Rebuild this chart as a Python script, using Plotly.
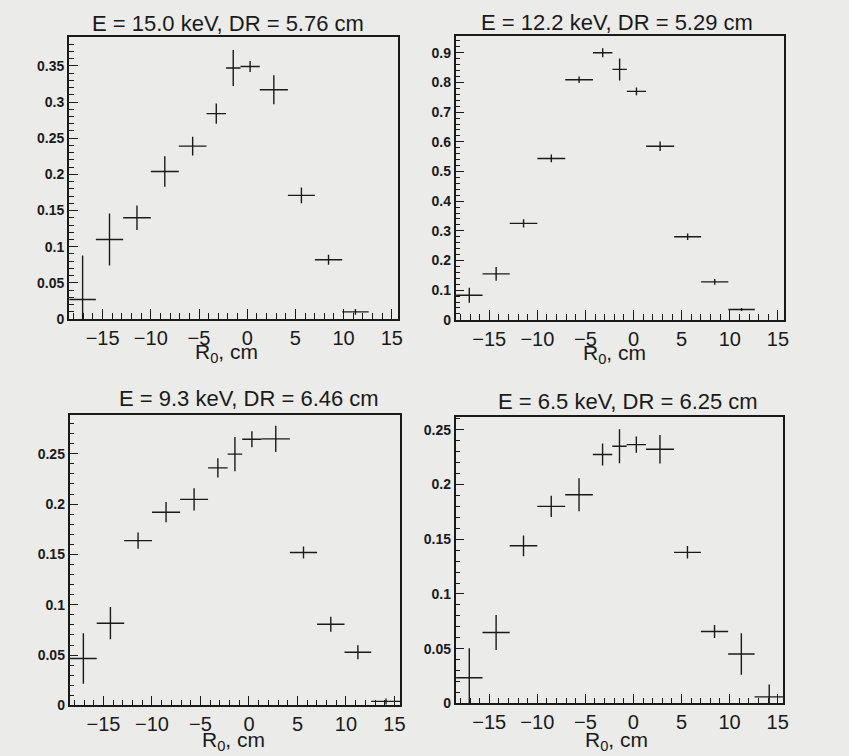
import plotly.graph_objects as go
from plotly.subplots import make_subplots

# ---- data ----
bin_edges = [-18.45, -15.7, -12.87, -10.0, -7.1, -4.22, -2.2, -0.7, 1.3, 4.22, 7.02, 9.85, 12.6, 15.65]

titles = ["E = 15.0 keV, DR = 5.76 cm", "E = 12.2 keV, DR = 5.29 cm",
          "E = 9.3 keV, DR = 6.46 cm", "E = 6.5 keV, DR = 6.25 cm"]

p1_y = [0.027, 0.110, 0.140, 0.204, 0.239, 0.284, 0.347, 0.349, 0.317, 0.171, 0.082, 0.010, None]
p1_err = [0.061, 0.036, 0.017, 0.021, 0.013, 0.014, 0.025, 0.0075, 0.020, 0.011, 0.007, 0.004, None]

p2_y = [0.083, 0.155, 0.325, 0.544, 0.809, 0.900, 0.844, 0.770, 0.585, 0.280, 0.128, 0.035, None]
p2_err = [0.025, 0.023, 0.014, 0.013, 0.011, 0.015, 0.037, 0.013, 0.016, 0.011, 0.010, 0.005, None]

p3_y = [0.0466, 0.0817, 0.1637, 0.192, 0.2047, 0.236, 0.2497, 0.2645, 0.2648, 0.152, 0.0807, 0.0528, 0.004]
p3_err = [0.025, 0.016, 0.008, 0.010, 0.011, 0.0095, 0.017, 0.008, 0.013, 0.006, 0.0075, 0.007, 0.003]

p4_y = [0.0235, 0.0648, 0.144, 0.180, 0.1906, 0.2274, 0.2349, 0.2364, 0.2322, 0.138, 0.0657, 0.0452, 0.006]
p4_err = [0.027, 0.016, 0.0095, 0.0098, 0.015, 0.010, 0.0155, 0.0075, 0.013, 0.0057, 0.006, 0.019, 0.0114]

x_title = "R<sub>0</sub>, cm"

# ---- derived ----
centers = [(a + b) / 2 for a, b in zip(bin_edges[:-1], bin_edges[1:])]
halfw = [(b - a) / 2 for a, b in zip(bin_edges[:-1], bin_edges[1:])]

panels = [
    dict(y=p1_y, e=p1_err, yr=[0, 0.39], dt=0.05, mdt=0.01,
         xd=[0.0816, 0.4711], yd=[0.5734, 0.9507], t=(0.2703, 0.9680), xt=(0.2686, 0.528)),
    dict(y=p2_y, e=p2_err, yr=[0, 0.958], dt=0.1, mdt=0.02,
         xd=[0.5398, 0.9285], yd=[0.5724, 0.9524], t=(0.7312, 0.9697), xt=(0.7279, 0.527)),
    dict(y=p3_y, e=p3_err, yr=[0, 0.289], dt=0.05, mdt=0.01,
         xd=[0.0824, 0.4743], yd=[0.0569, 0.4458], t=(0.2945, 0.4670), xt=(0.2768, 0.009)),
    dict(y=p4_y, e=p4_err, yr=[0, 0.262], dt=0.05, mdt=0.01,
         xd=[0.5398, 0.9282], yd=[0.0595, 0.4431], t=(0.744, 0.4637), xt=(0.7303, 0.009)),
]

ink = "#1a1a1a"
fig = make_subplots(rows=2, cols=2)
pos = [(1, 1), (1, 2), (2, 1), (2, 2)]

for i, (p, (r, c)) in enumerate(zip(panels, pos)):
    fig.add_trace(go.Scatter(
        x=centers, y=p["y"], mode="markers",
        marker=dict(size=1, color=ink),
        error_x=dict(type="data", array=halfw, width=0, thickness=1.4, color=ink),
        error_y=dict(type="data", array=p["e"], width=0, thickness=1.4, color=ink),
        showlegend=False, hoverinfo="x+y"), row=r, col=c)
    sfx = "" if i == 0 else str(i + 1)
    fig.layout["xaxis" + sfx].update(
        domain=p["xd"], range=[-18.5, 15.6], dtick=5, tick0=0,
        ticks="inside", ticklen=10, tickwidth=1.2, tickcolor=ink,
        minor=dict(dtick=1, tick0=0, ticks="inside", ticklen=6, tickwidth=1.2,
                   tickcolor=ink, showgrid=False),
        showline=True, mirror=True, linecolor=ink, linewidth=1.6,
        showgrid=False, zeroline=False,
        tickfont=dict(family="Liberation Sans", size=20, color=ink))
    fig.layout["yaxis" + sfx].update(
        domain=p["yd"], range=p["yr"], dtick=p["dt"], tick0=0,
        ticks="inside", ticklen=9, tickwidth=1.2, tickcolor=ink,
        minor=dict(dtick=p["mdt"], tick0=0, ticks="inside", ticklen=5, tickwidth=1.2,
                   tickcolor=ink, showgrid=False),
        showline=True, mirror=True, linecolor=ink, linewidth=1.6,
        showgrid=False, zeroline=False,
        tickfont=dict(family="Liberation Sans", size=14, color=ink, weight="bold"))
    fig.add_annotation(text=titles[i], xref="paper", yref="paper",
                       x=p["t"][0], y=p["t"][1], xanchor="center", yanchor="middle",
                       showarrow=False,
                       font=dict(family="Liberation Sans", size=22, color=ink))
    fig.add_annotation(text=x_title, xref="paper", yref="paper",
                       x=p["xt"][0], y=p["xt"][1], xanchor="center", yanchor="middle",
                       showarrow=False,
                       font=dict(family="Liberation Sans", size=21, color=ink))

fig.update_layout(width=849, height=756, margin=dict(l=0, r=0, t=0, b=0),
                  paper_bgcolor="#ebebe9", plot_bgcolor="#ebebe9")

fig.write_html("out.html")
